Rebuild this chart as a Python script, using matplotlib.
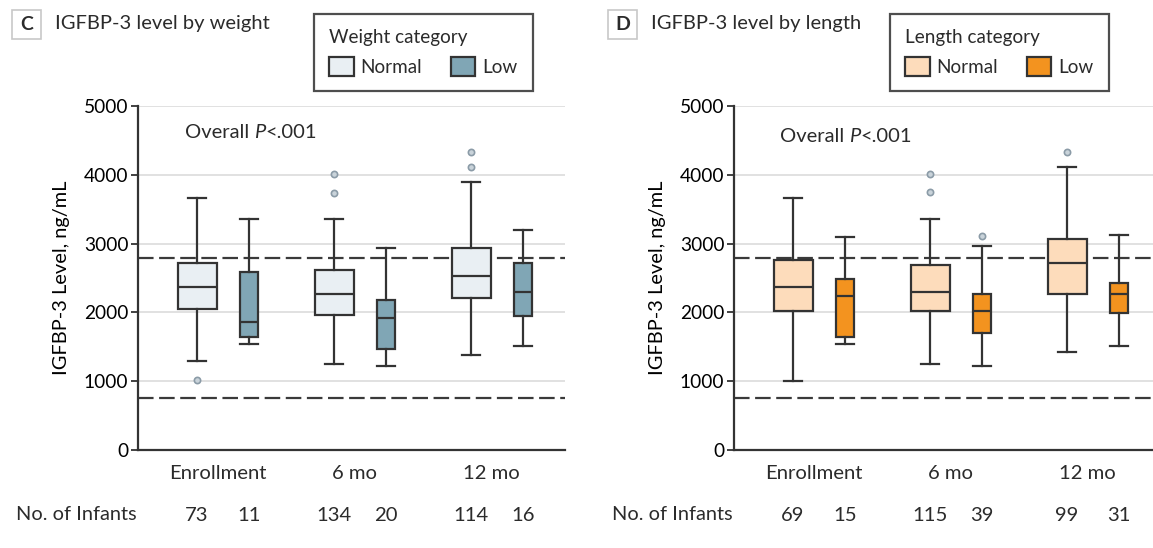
import matplotlib
matplotlib.use('Agg')
import matplotlib.pyplot as plt
from matplotlib.patches import Patch, Rectangle

# data (ng/mL): [whislo, q1, median, q3, whishi]
timepoints = ['Enrollment', '6 mo', '12 mo']

wt_normal_stats = [[1294, 2045, 2369, 2714, 3667],
                   [1254, 1958, 2272, 2616, 3353],
                   [1381, 2205, 2529, 2940, 3895]]
wt_low_stats = [[1545, 1638, 1860, 2592, 3353],
                [1221, 1472, 1923, 2180, 2940],
                [1512, 1952, 2301, 2714, 3193]]
wt_normal_fliers = [[1017], [4007, 3740], [4331, 4109]]
wt_low_fliers = [[], [], []]
wt_counts = [73, 11, 134, 20, 114, 16]

len_normal_stats = [[1003, 2020, 2369, 2762, 3667],
                    [1254, 2016, 2301, 2685, 3353],
                    [1420, 2272, 2714, 3067, 4109]]
len_low_stats = [[1545, 1638, 2243, 2490, 3096],
                 [1221, 1701, 2016, 2272, 2970],
                 [1507, 1987, 2272, 2432, 3129]]
len_normal_fliers = [[], [4017, 3750], [4327]]
len_low_fliers = [[], [3110], []]
len_counts = [69, 15, 115, 39, 99, 31]

ref_upper = 2790
ref_lower = 750

W, H = 1153, 548
TXT = '#2b2b2b'
EDGE = '#333333'

plt.rcParams['font.family'] = ['Lato', 'DejaVu Sans']
plt.rcParams['font.size'] = 14
plt.rcParams['text.color'] = TXT


def fx(px):
    return px / W


def fy(py):
    return 1 - py / H


def stats_list(rows, fliers):
    return [dict(whislo=r[0], q1=r[1], med=r[2], q3=r[3], whishi=r[4], fliers=f)
            for r, f in zip(rows, fliers)]


def panel(ax_left_px, ax_right_px, letter, title, legend_title, colors,
          normal_stats, low_stats, normal_fliers, low_fliers, counts,
          legend_left, p_px):
    fig = plt.gcf()
    ax = fig.add_axes([fx(ax_left_px), fy(450), fx(ax_right_px - ax_left_px), (450 - 106) / H])
    xmin = 0.379
    xmax = xmin + (ax_right_px - ax_left_px) / 137
    ax.set_xlim(xmin, xmax)
    ax.set_ylim(0, 5000)

    groups = [1, 2, 3]
    pos_n = [g - 0.19 for g in groups]
    pos_l = [g + 0.19 for g in groups]
    flier = dict(marker='o', markersize=4.5, markerfacecolor='#c9d3da',
                 markeredgecolor='#8b9ba7', markeredgewidth=1.2)
    for stats, pos, w, col in [(stats_list(normal_stats, normal_fliers), pos_n, 0.285, colors[0]),
                               (stats_list(low_stats, low_fliers), pos_l, 0.13, colors[1])]:
        ax.bxp(stats, positions=pos, widths=w, capwidths=0.13, patch_artist=True,
               showfliers=True, manage_ticks=False,
               boxprops=dict(facecolor=col, edgecolor=EDGE, linewidth=1.6),
               medianprops=dict(color=EDGE, linewidth=1.6),
               whiskerprops=dict(color=EDGE, linewidth=1.6),
               capprops=dict(color=EDGE, linewidth=1.6),
               flierprops=flier, zorder=3)

    for yv in [ref_upper, ref_lower]:
        ax.axhline(yv, color='#3a3a3a', lw=1.6, dashes=(7, 2.5), zorder=2)
    ax.set_yticks([0, 1000, 2000, 3000, 4000, 5000])
    for yv in [1000, 2000, 3000, 4000, 5000]:
        ax.axhline(yv, color='#dcdcdc', lw=1.2, zorder=1)
    ax.set_xticks([])
    for s in ['top', 'right']:
        ax.spines[s].set_visible(False)
    for s in ['left', 'bottom']:
        ax.spines[s].set_color('#333333')
        ax.spines[s].set_linewidth(1.6)
    ax.tick_params(axis='y', length=5, width=1.3, color='#333333', labelsize=13.8, pad=2)
    ax.set_ylabel('IGFBP-3 Level, ng/mL', fontsize=14.4, labelpad=10)

    trans = ax.get_xaxis_transform()
    for g, lab in zip(groups, timepoints):
        ax.text(g - 0.04, -0.067, lab, transform=trans, ha='center', va='center', fontsize=14.6)
    box_pos = [p for pair in zip(pos_n, pos_l) for p in pair]
    for x, n in zip(box_pos, counts):
        ax.text(x, -0.189, str(n), transform=trans, ha='center', va='center', fontsize=14.6)
    fig.text(fx(ax_left_px - 122), fy(515), 'No. of Infants', ha='left', va='center',
             fontsize=14.4)

    t = fig.text(fx(p_px[0]), fy(p_px[1]), 'Overall ', ha='left', va='center', fontsize=14.5)
    t = plt.annotate('P', xycoords=t, xy=(1, 0.5), va='center', ha='left',
                     fontsize=14.5, style='italic')
    plt.annotate('<.001', xycoords=t, xy=(1, 0.5), va='center', ha='left', fontsize=14.5)

    # panel letter and title
    bx = ax_left_px - 126
    fig.add_artist(Rectangle((fx(bx), fy(39)), fx(29), 29 / H, transform=fig.transFigure,
                             facecolor='white', edgecolor='#c8c8c8', lw=1.2))
    fig.text(fx(bx + 14.5), fy(24), letter, ha='center', va='center', fontsize=14,
             fontweight='bold')
    fig.text(fx(bx + 43), fy(24), title, ha='left', va='center', fontsize=14.5)

    handles = [Patch(facecolor=colors[0], edgecolor=EDGE, lw=1.6),
               Patch(facecolor=colors[1], edgecolor=EDGE, lw=1.6)]
    leg = fig.legend(handles, ['Normal', 'Low'], title=legend_title, ncol=2,
                     loc='upper left', bbox_to_anchor=(fx(legend_left), fy(14)),
                     frameon=True, fancybox=False, edgecolor='#222222',
                     fontsize=13.6, title_fontsize=13.6, alignment='left',
                     handlelength=1.3, handleheight=1.1, handletextpad=0.37,
                     columnspacing=1.5, borderpad=0.8, labelspacing=0.6,
                     borderaxespad=0)
    leg.get_frame().set_linewidth(1.6)
    return ax


fig = plt.figure(figsize=(W / 100, H / 100), dpi=100)

panel(138, 565, 'C', 'IGFBP-3 level by weight', 'Weight category',
      ['#e9eff3', '#80a6b5'], wt_normal_stats, wt_low_stats,
      wt_normal_fliers, wt_low_fliers, wt_counts,
      legend_left=314, p_px=(185, 133))

panel(734, 1153, 'D', 'IGFBP-3 level by length', 'Length category',
      ['#fddcbb', '#f3931f'], len_normal_stats, len_low_stats,
      len_normal_fliers, len_low_fliers, len_counts,
      legend_left=890, p_px=(780, 137))

fig.savefig('out.png', dpi=100)
